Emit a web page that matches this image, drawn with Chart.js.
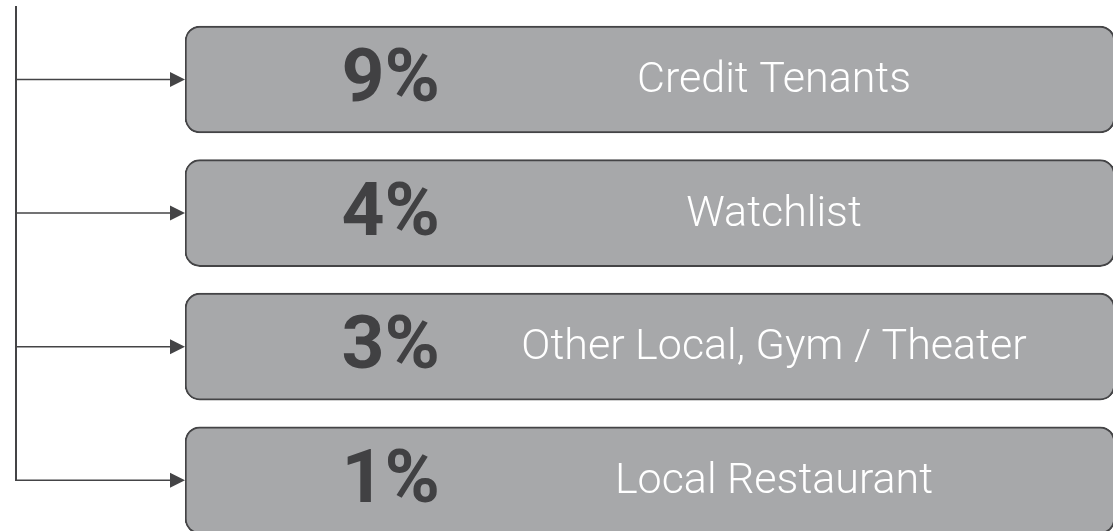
<!DOCTYPE html>
<html>
<head>
<meta charset="utf-8">
<script src="https://cdn.jsdelivr.net/npm/chart.js@4/dist/chart.umd.min.js"></script>
<style>
  html, body { margin: 0; padding: 0; background: #fff; }
  #wrap { width: 1113px; height: 531px; }
</style>
</head>
<body>
<div id="wrap"><canvas id="chart" width="1113" height="531"></canvas></div>
<script>
// tenant mix: share of each bucket
const categories = ['Credit Tenants', 'Watchlist', 'Other Local, Gym / Theater', 'Local Restaurant'];
const shares = [9, 4, 3, 1];
const boxSpan = [0, 1];   // every box runs the full width of the x axis

const BOX_FILL = '#a7a8aa';
const INK = '#444446';

// ── bracket, arrows and texts drawn from the bar elements ──
const boxDecor = {
  id: 'boxDecor',
  afterDatasetsDraw(chart) {
    const ctx = chart.ctx;
    const bars = chart.getDatasetMeta(0).data;
    const lineX = 16;
    ctx.save();
    ctx.strokeStyle = INK;
    ctx.fillStyle = INK;

    // vertical bracket
    ctx.lineWidth = 2;
    ctx.beginPath();
    ctx.moveTo(lineX, 6);
    ctx.lineTo(lineX, bars[bars.length - 1].y);
    ctx.stroke();

    bars.forEach((bar, i) => {
      const left = Math.min(bar.base, bar.x);
      // arrow shaft
      ctx.lineWidth = 1.5;
      ctx.beginPath();
      ctx.moveTo(lineX - 1, bar.y);
      ctx.lineTo(left - 12, bar.y);
      ctx.stroke();
      // arrow head
      ctx.beginPath();
      ctx.moveTo(left - 15, bar.y - 7.5);
      ctx.lineTo(left, bar.y);
      ctx.lineTo(left - 15, bar.y + 7.5);
      ctx.closePath();
      ctx.fill();

      // percentage
      ctx.fillStyle = '#414143';
      ctx.font = 'bold 75px Roboto, "DejaVu Sans", sans-serif';
      ctx.textAlign = 'right';
      ctx.textBaseline = 'middle';
      ctx.fillText(shares[i] + '%', 440, bar.y + 3);

      // label
      ctx.fillStyle = '#ffffff';
      ctx.font = '300 43px Roboto, "DejaVu Sans", sans-serif';
      ctx.textAlign = 'center';
      ctx.fillText(categories[i], 774, bar.y + 2);
      ctx.fillStyle = INK;
    });
    ctx.restore();
  }
};

new Chart(document.getElementById('chart'), {
  type: 'bar',
  data: {
    datasets: [{
      data: categories.map((c, i) => ({ x: boxSpan, y: i })),
      backgroundColor: BOX_FILL,
      borderColor: INK,
      borderWidth: 2,
      borderSkipped: false,
      borderRadius: 15,
      barThickness: 107,
    }],
  },
  options: {
    indexAxis: 'y',
    responsive: false,
    animation: false,
    devicePixelRatio: 1,
    layout: { padding: { left: 185, right: 0, top: 0, bottom: 0 } },
    scales: {
      // box runs a couple of pixels past the right edge, as in the source
      x: { type: 'linear', display: false, min: 0, max: 0.998 },
      y: { type: 'linear', display: false, reverse: true, offset: false, min: -0.595, max: 3.38 },
    },
    plugins: { legend: { display: false }, tooltip: { enabled: false } },
  },
  plugins: [boxDecor],
});
</script>
</body>
</html>
